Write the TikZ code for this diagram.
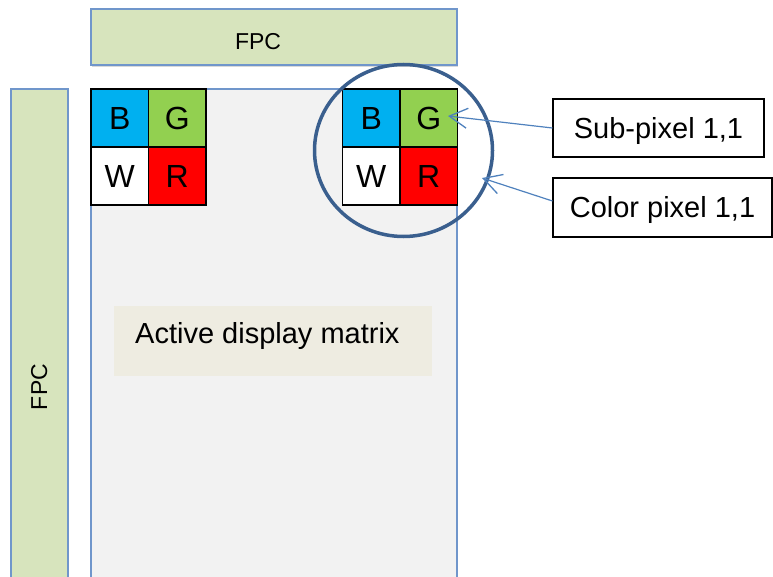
\documentclass[tikz,border=0pt]{standalone}
\usepackage{fontspec}
\setmainfont{Liberation Sans}
\usetikzlibrary{shapes.geometric,arrows.meta,shadows}
\definecolor{fpcgreen}{HTML}{D7E4BD}
\definecolor{edgeblue}{HTML}{7096CB}
\definecolor{panelgray}{HTML}{F2F2F2}
\definecolor{labeltan}{HTML}{EEECE1}
\definecolor{subB}{HTML}{00B0F0}
\definecolor{subG}{HTML}{92D050}
\definecolor{subR}{HTML}{FF0000}
\definecolor{ringblue}{HTML}{3A5F8E}
\definecolor{arrowblue}{HTML}{4F81BD}
\tikzset{
  fpc/.style={draw=edgeblue, line width=1.6pt, fill=fpcgreen, inner sep=0pt},
  panel/.style={draw=edgeblue, line width=1.6pt, fill=panelgray, inner sep=0pt},
  cell/.style={draw=black, line width=1.3pt, inner sep=0pt, minimum width=57.5pt,
    minimum height=58pt, font=\fontsize{32}{36}\selectfont},
  callout/.style={draw=black, line width=1.1pt, fill=white, inner sep=0pt,
    text height=21pt, text depth=0pt, font=\fontsize{29}{34}\selectfont},
  pointer/.style={draw=arrowblue, line width=1.2pt,
    -{Straight Barb[length=18pt,width=20pt,line width=1.3pt]}},
  fpclabel/.style={inner sep=0pt, anchor=base, font=\fontsize{23}{27}\selectfont},
}
\begin{document}
\begin{tikzpicture}[x=1pt,y=-1pt]
\useasboundingbox (0,0) rectangle (773,577);
\clip (0,0) rectangle (773,577);

% display panel and flex connectors
\node[panel, minimum width=366pt, minimum height=596pt] (panel) at (274,387) {};
\node[fpc, minimum width=57pt, minimum height=596pt] (fpcleft) at (39.5,387) {};
\node[fpclabel, rotate=90] (fpcleftlbl) at (47,387) {FPC};
\node[fpc, minimum width=366pt, minimum height=56pt,
  drop shadow={shadow xshift=0.5pt, shadow yshift=-2pt, opacity=0.3}] (fpctop) at (274,37) {};
\node[fpclabel] (fpctoplbl) at (258,50) {FPC};

% active area label
\node[fill=labeltan, inner sep=0pt, minimum width=318pt, minimum height=70pt] (matrixbox) at (273,341) {};
\node[inner sep=0pt, anchor=base west, font=\fontsize{29}{34}\selectfont] (matrixlbl) at (135,343) {Active display matrix};

% first colour pixel, left corner
\node[cell, fill=subB] (lb) at (119.75,118) {B};
\node[cell, fill=subG] (lg) at (177.25,118) {G};
\node[cell, fill=white] (lw) at (119.75,176) {W};
\node[cell, fill=subR] (lr) at (177.25,176) {R};

% colour pixel 1,1, right corner
\node[cell, fill=subB] (rb) at (371.25,118) {B};
\node[cell, fill=subG] (rg) at (428.75,118) {G};
\node[cell, fill=white] (rw) at (371.25,176) {W};
\node[cell, fill=subR] (rr) at (428.75,176) {R};

% highlight ring
\node[ellipse, draw=ringblue, line width=3.5pt, minimum width=178pt, minimum height=172pt, inner sep=0pt] (ring) at (403.5,150.5) {};

% callouts
\node[callout, minimum width=211pt, minimum height=58pt] (subpx) at (658.5,128) {Sub-pixel 1,1};
\node[callout, minimum width=219pt, minimum height=59pt] (colpx) at (662.5,207.5) {Color pixel 1,1};

\coordinate (tipG) at (448,116);
\coordinate (tipRing) at (482,178);
\draw[pointer] (subpx.west) -- (tipG);
\draw[pointer] ([yshift=6.5pt]colpx.west) -- (tipRing);
\end{tikzpicture}
\end{document}
